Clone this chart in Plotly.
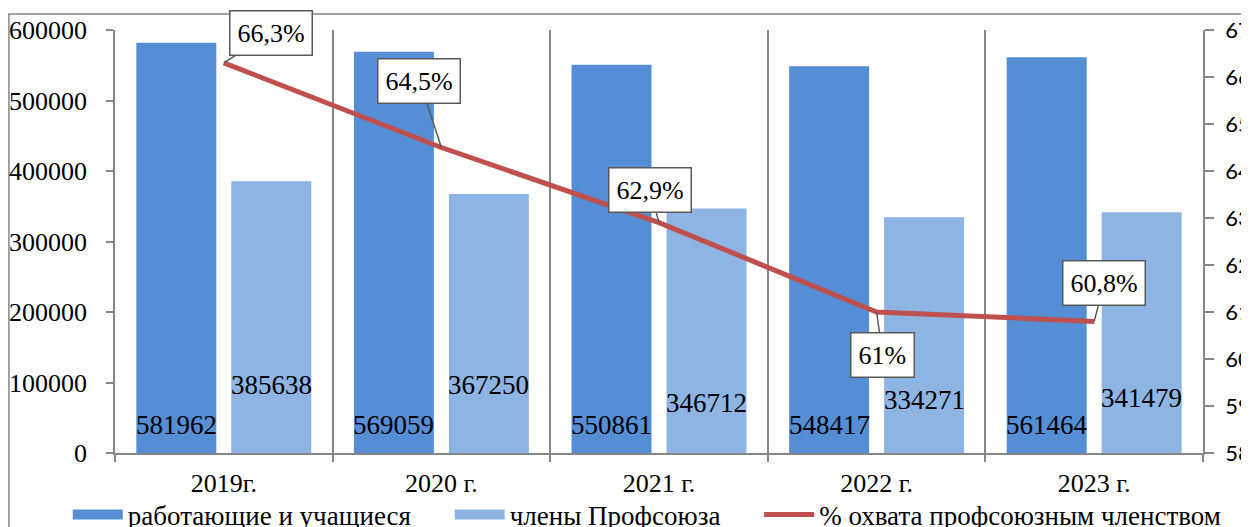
import plotly.graph_objects as go

categories = ["2019г.", "2020 г.", "2021 г.", "2022 г.", "2023 г."]
workers = [581962, 569059, 550861, 548417, 561464]
members = [385638, 367250, 346712, 334271, 341479]
coverage = [66.3, 64.5, 62.9, 61.0, 60.8]
coverage_labels = ["66,3%", "64,5%", "62,9%", "61%", "60,8%"]
legend_names = ["работающие и учащиеся", "члены Профсоюза", "% охвата профсоюзным членством"]
# vertical placement (left-axis units) of the value labels as in the reference
workers_label_y = [39700, 39700, 39700, 39700, 39700]
members_label_y = [96500, 96500, 71000, 75000, 78000]
# callout offsets (px) of the percentage boxes
callout_ax = [47, -22, -9, 6, 10]
callout_ay = [-30, -67, -33, 43, -38]

SERIF = "Times New Roman, Liberation Serif, DejaVu Serif, serif"
SANS = "Lato, sans-serif"
GRAY = "#868686"
DARK = "#558ED5"
LIGHT = "#8EB4E3"
RED = "#C0504D"
PAD = "\u00a0" * 5

fig = go.Figure()
fig.add_trace(go.Bar(x=categories, y=workers, name=legend_names[0], showlegend=False,
                     marker=dict(color=DARK, line=dict(width=0))))
fig.add_trace(go.Bar(x=categories, y=members, name=legend_names[1], showlegend=False,
                     marker=dict(color=LIGHT, line=dict(width=0))))
fig.add_trace(go.Scatter(x=categories, y=coverage, yaxis="y2", mode="lines",
                         name=legend_names[2], showlegend=False,
                         line=dict(color=RED, width=5)))
# legend entries (wide swatches as in the reference)
for nm, col, w, pad in [(legend_names[0], DARK, 14, PAD),
                        (legend_names[1], LIGHT, 14, PAD),
                        (legend_names[2], RED, 5, "")]:
    fig.add_trace(go.Scatter(x=[None], y=[None], mode="lines", name=nm + pad,
                             line=dict(color=col, width=w), hoverinfo="skip"))

annotations = []
for c, wy, w in zip(categories, workers_label_y, workers):
    annotations.append(dict(x=c, y=wy, xref="x", yref="y", text=str(w), showarrow=False,
                            xshift=-47.5, font=dict(family=SERIF, size=27, color="black")))
for c, my, m in zip(categories, members_label_y, members):
    annotations.append(dict(x=c, y=my, xref="x", yref="y", text=str(m), showarrow=False,
                            xshift=47.5, font=dict(family=SERIF, size=27, color="black")))
for c, v, t, ax, ay in zip(categories, coverage, coverage_labels, callout_ax, callout_ay):
    annotations.append(dict(x=c, y=v, xref="x", yref="y2", text=t, showarrow=True,
                            ax=ax, ay=ay, axref="pixel", ayref="pixel",
                            arrowhead=0, arrowwidth=1.5, arrowcolor="#595959", standoff=0,
                            bgcolor="white", bordercolor="#595959", borderwidth=1.5, borderpad=7,
                            font=dict(family=SERIF, size=26, color="black")))

fig.update_layout(
    width=1241, height=519,
    margin=dict(l=107, r=46, t=22, b=74, autoexpand=False),
    paper_bgcolor="white", plot_bgcolor="white",
    barmode="group", bargap=0.127, bargroupgap=0.158,
    font=dict(family=SERIF, size=26, color="black"),
    xaxis=dict(showline=True, linecolor=GRAY, linewidth=1.5,
               ticks="outside", ticklen=7, tickcolor=GRAY, tickwidth=1.5,
               tickson="boundaries", showgrid=True, gridcolor=GRAY, gridwidth=1.5,
               ticklabelstandoff=6,
               tickfont=dict(family=SERIF, size=26, color="black")),
    yaxis=dict(range=[0, 600000], dtick=100000, showgrid=False, zeroline=False,
               showline=True, linecolor=GRAY, linewidth=1.5,
               ticks="outside", ticklen=7, tickcolor=GRAY, tickwidth=1.5,
               ticklabelstandoff=14, tickformat="d",
               tickfont=dict(family=SERIF, size=26, color="black")),
    yaxis2=dict(range=[58, 67], dtick=1, overlaying="y", side="right",
                showgrid=False, zeroline=False,
                showline=True, linecolor=GRAY, linewidth=1.5,
                ticks="outside", ticklen=9, tickcolor=GRAY, tickwidth=1.5,
                ticklabelstandoff=7,
                tickfont=dict(family=SANS, size=22, color="black")),
    legend=dict(orientation="h", x=-0.0434, xanchor="left", y=-0.1466, yanchor="middle",
                font=dict(family=SERIF, size=27, color="black"),
                bgcolor="rgba(0,0,0,0)", itemwidth=50),
    annotations=annotations,
    shapes=[dict(type="rect", xref="paper", yref="paper",
                 x0=-0.0975, x1=1.2, y0=-0.4, y1=1.0378,
                 line=dict(color=GRAY, width=1.5), layer="below")],
)

fig.write_html("out.html")
